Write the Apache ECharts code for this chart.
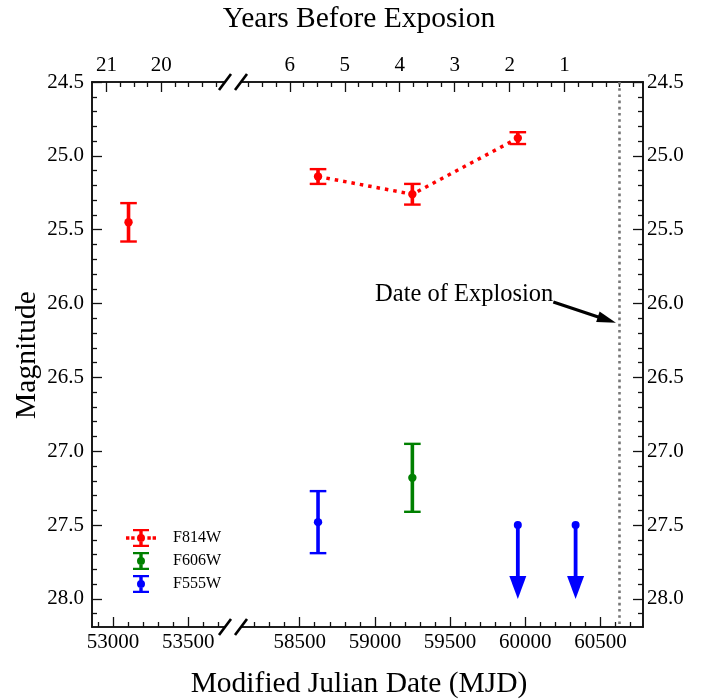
<!DOCTYPE html>
<html><head><meta charset="utf-8">
<script src="https://cdn.jsdelivr.net/npm/echarts@6/dist/echarts.min.js"></script>
<style>html,body{margin:0;padding:0;background:#fff}#chart{width:704px;height:700px}</style>
</head><body><div id="chart"></div>
<script>
// ---------------- data ----------------
const f814wMJD = [53103, 58622, 59249, 59950];
const f814wMag = [25.45, 25.14, 25.26, 24.88];
const f814wErr = [0.13, 0.05, 0.07, 0.04];
const f606wMJD = [59249];
const f606wMag = [27.18];
const f606wErr = [0.23];
const f555wMJD = [58622];
const f555wMag = [27.48];
const f555wErr = [0.21];
const f555wLimitMJD = [59950, 60334];
const f555wLimitMag = [27.5, 27.5];
const f555wLimitEnd = [28.0, 28.0];
const explosionMJD = 60626;
const annotationLabel = 'Date of Explosion';
const annotationFrom = [60186, 25.99];
const annotationTo = [60602, 26.13];

// axis ranges (MJD and magnitude)
const mjdLeftRange = [52860, 53745];
const mjdRightRange = [58110, 60782];
const magRange = [24.5, 28.19];

// tick labels / tick values
const mjdLeftTicks = [53000, 53500];
const mjdLeftMinor = [52900, 53100, 53200, 53300, 53400, 53600, 53700];
const mjdRightTicks = [58500, 59000, 59500, 60000, 60500];
const mjdRightMinor = [58200, 58300, 58400, 58600, 58700, 58800, 58900, 59100, 59200, 59300, 59400,
  59600, 59700, 59800, 59900, 60100, 60200, 60300, 60400, 60600, 60700];
const yearLeftTicks = [21, 20];
const yearLeftMinor = [20.75, 20.5, 20.25, 19.75, 19.5, 19.25, 19];
const yearRightTicks = [6, 5, 4, 3, 2, 1];
const yearRightMinor = [6.75, 6.5, 6.25, 5.75, 5.5, 5.25, 4.75, 4.5, 4.25, 3.75, 3.5, 3.25,
  2.75, 2.5, 2.25, 1.75, 1.5, 1.25, 0.75, 0.5, 0.25, 0, -0.25];
const magTicks = [24.5, 25.0, 25.5, 26.0, 26.5, 27.0, 27.5, 28.0];
const magMinor = [24.6, 24.7, 24.8, 24.9, 25.1, 25.2, 25.3, 25.4, 25.6, 25.7, 25.8, 25.9,
  26.1, 26.2, 26.3, 26.4, 26.6, 26.7, 26.8, 26.9, 27.1, 27.2, 27.3, 27.4, 27.6, 27.7, 27.8, 27.9, 28.1];

const DAYS_PER_YEAR = 365.25;

// ---------------- layout / style ----------------
const FONT = 'Liberation Serif';
const G0 = {left: 92, top: 82, width: 133, height: 545};
const G1 = {left: 241, top: 82, width: 402, height: 545};
const RED = '#ff0000', GREEN = '#008000', BLUE = '#0000ff';

function toYears(mjd) { return (explosionMJD - mjd) / DAYS_PER_YEAR; }

function xAxisDef(grid, pos, min, max, values, len, showLabels, margin, inverse, fmt) {
  return {
    type: 'value', gridIndex: grid, position: pos, min: min, max: max, inverse: !!inverse,
    axisLine: {show: true, onZero: false, lineStyle: {color: '#111', width: 1.6}},
    axisTick: {show: true, inside: true, length: len, customValues: values, lineStyle: {color: '#111', width: 1.3}},
    axisLabel: showLabels ? {show: true, customValues: values, margin: margin, color: '#000',
      fontFamily: FONT, fontSize: 21, formatter: fmt} : {show: false},
    splitLine: {show: false}, minorTick: {show: false}, axisPointer: {show: false}
  };
}
function yAxisDef(grid, pos, values, len, showLabels, margin) {
  return {
    type: 'value', gridIndex: grid, position: pos, min: magRange[0], max: magRange[1], inverse: true,
    axisLine: {show: true, onZero: false, lineStyle: {color: '#111', width: 1.6}},
    axisTick: {show: true, inside: true, length: len, customValues: values, lineStyle: {color: '#111', width: 1.3}},
    axisLabel: showLabels ? {show: true, customValues: values, margin: margin, color: '#000',
      fontFamily: FONT, fontSize: 21, formatter: v => Number(v).toFixed(1)} : {show: false},
    splitLine: {show: false}, minorTick: {show: false}
  };
}
const intFmt = v => String(Math.round(v));

function inRange(m, r) { return m >= r[0] && m <= r[1]; }
function errData(mjd, mag, err, r) {
  const out = [];
  mjd.forEach((m, i) => { if (inRange(m, r)) out.push([m, mag[i], err[i]]); });
  return out;
}

function errorBarRender(color) {
  return function (params, api) {
    const x = api.value(0), y = api.value(1), e = api.value(2);
    const c = api.coord([x, y]);
    const hi = api.coord([x, y - e]);
    const lo = api.coord([x, y + e]);
    const cap = 8.3;
    return {type: 'group', children: [
      {type: 'line', shape: {x1: c[0], y1: hi[1], x2: c[0], y2: lo[1]}, style: {stroke: color, lineWidth: 3.6}},
      {type: 'line', shape: {x1: c[0] - cap, y1: hi[1], x2: c[0] + cap, y2: hi[1]}, style: {stroke: color, lineWidth: 2.4}},
      {type: 'line', shape: {x1: c[0] - cap, y1: lo[1], x2: c[0] + cap, y2: lo[1]}, style: {stroke: color, lineWidth: 2.4}},
      {type: 'circle', shape: {cx: c[0], cy: c[1], r: 4.2}, style: {fill: color}}
    ]};
  };
}

function limitRender(params, api) {
  const x = api.value(0), m = api.value(1), end = api.value(2);
  const top = api.coord([x, m]);
  const tip = api.coord([x, end]);
  const headH = 23, headW = 8.5;
  return {type: 'group', children: [
    {type: 'line', shape: {x1: top[0], y1: top[1], x2: tip[0], y2: tip[1] - headH + 1}, style: {stroke: BLUE, lineWidth: 3.8}},
    {type: 'polygon', shape: {points: [[tip[0] - headW, tip[1] - headH], [tip[0] + headW, tip[1] - headH], [tip[0], tip[1]]]}, style: {fill: BLUE}},
    {type: 'circle', shape: {cx: top[0], cy: top[1], r: 4}, style: {fill: BLUE}}
  ]};
}

function annotationRender(params, api) {
  const a = api.coord([api.value(0), api.value(1)]);
  const b = api.coord([api.value(2), api.value(3)]);
  const dx = b[0] - a[0], dy = b[1] - a[1];
  const L = Math.sqrt(dx * dx + dy * dy);
  const ux = dx / L, uy = dy / L;
  const hl = 19, hw = 5.5;
  const bx = b[0] - ux * hl, by = b[1] - uy * hl;
  return {type: 'group', children: [
    {type: 'line', shape: {x1: a[0], y1: a[1], x2: bx + ux * 2, y2: by + uy * 2}, style: {stroke: '#000', lineWidth: 3.2}},
    {type: 'polygon', shape: {points: [[b[0], b[1]], [bx - uy * hw, by + ux * hw], [bx + uy * hw, by - ux * hw]]}, style: {fill: '#000'}},
    {type: 'text', x: a[0], y: a[1] - 8, style: {text: annotationLabel, fill: '#000', fontSize: 24.5, fontFamily: FONT, align: 'right', verticalAlign: 'middle'}}
  ]};
}

// legend icons (errorbar glyphs)
const iconDotted = 'path://M42,9L42,9 M0,7.3H3.4V10.7H0Z M5.2,7.3H8.6V10.7H5.2Z M21.4,7.3H24.8V10.7H21.4Z M26.6,7.3H30V10.7H26.6Z ' +
  'M7,0H23V2.3H7Z M7,15.7H23V18H7Z M13.3,0H16.7V18H13.3Z M11,9A4,4 0 1 1 19,9A4,4 0 1 1 11,9Z';
const iconBar = 'path://M0,9L0,9 M42,9L42,9 ' +
  'M7,0H23V2.3H7Z M7,15.7H23V18H7Z M13.3,0H16.7V18H13.3Z M11,9A4,4 0 1 1 19,9A4,4 0 1 1 11,9Z';

// break marks
function slash(cx, cy) {
  return {type: 'line', z: 100, shape: {x1: cx - 6, y1: cy + 8, x2: cx + 6, y2: cy - 8}, style: {stroke: '#000', lineWidth: 2.6}};
}
const gBreakL = G0.left + G0.width, gBreakR = G1.left, gTop = G0.top, gBot = G0.top + G0.height;

const chart = echarts.init(document.getElementById('chart'), null, {renderer: 'canvas'});
chart.setOption({
  animation: false,
  backgroundColor: '#fff',
  grid: [
    Object.assign({outerBoundsMode: 'none', containLabel: false}, G0),
    Object.assign({outerBoundsMode: 'none', containLabel: false}, G1)
  ],
  xAxis: [
    xAxisDef(0, 'bottom', mjdLeftRange[0], mjdLeftRange[1], mjdLeftTicks, 10, true, 5, false, intFmt),
    xAxisDef(0, 'bottom', mjdLeftRange[0], mjdLeftRange[1], mjdLeftMinor, 5, false),
    xAxisDef(0, 'top', toYears(mjdLeftRange[1]), toYears(mjdLeftRange[0]), yearLeftTicks, 10, true, 6, true, intFmt),
    xAxisDef(0, 'top', toYears(mjdLeftRange[1]), toYears(mjdLeftRange[0]), yearLeftMinor, 5, false, 0, true),
    xAxisDef(1, 'bottom', mjdRightRange[0], mjdRightRange[1], mjdRightTicks, 10, true, 5, false, intFmt),
    xAxisDef(1, 'bottom', mjdRightRange[0], mjdRightRange[1], mjdRightMinor, 5, false),
    xAxisDef(1, 'top', toYears(mjdRightRange[1]), toYears(mjdRightRange[0]), yearRightTicks, 10, true, 6, true, intFmt),
    xAxisDef(1, 'top', toYears(mjdRightRange[1]), toYears(mjdRightRange[0]), yearRightMinor, 5, false, 0, true)
  ],
  yAxis: [
    yAxisDef(0, 'left', magTicks, 10, true, 8),
    yAxisDef(0, 'left', magMinor, 5, false),
    yAxisDef(1, 'right', magTicks, 10, true, 4),
    yAxisDef(1, 'right', magMinor, 5, false)
  ],
  legend: {
    orient: 'vertical', left: 126, top: 529, padding: 0, itemWidth: 42, itemHeight: 18, itemGap: 5,
    selectedMode: false,
    textStyle: {fontFamily: FONT, fontSize: 16, color: '#000'},
    data: [{name: 'F814W', icon: iconDotted}, {name: 'F606W', icon: iconBar}, {name: 'F555W', icon: iconBar}]
  },
  graphic: [
    {type: 'text', x: 359, y: 19, style: {text: 'Years Before Exposion', fontSize: 29.5, fontFamily: FONT, fill: '#000', align: 'center', verticalAlign: 'middle'}},
    {type: 'text', x: 359, y: 684, style: {text: 'Modified Julian Date (MJD)', fontSize: 29.5, fontFamily: FONT, fill: '#000', align: 'center', verticalAlign: 'middle'}},
    {type: 'text', x: 27, y: 355, rotation: Math.PI / 2, style: {text: 'Magnitude', fontSize: 29.5, fontFamily: FONT, fill: '#000', align: 'center', verticalAlign: 'middle'}},
    slash(gBreakL, gTop), slash(gBreakR, gTop), slash(gBreakL, gBot), slash(gBreakR, gBot)
  ],
  series: [
    {
      name: 'F814W trend', type: 'line', xAxisIndex: 4, yAxisIndex: 2, z: 2,
      data: f814wMJD.map((m, i) => [m, f814wMag[i]]).filter(d => inRange(d[0], mjdRightRange)),
      symbol: 'none', showSymbol: false,
      lineStyle: {color: RED, width: 3.5, type: [3.5, 5], cap: 'butt'},
      markLine: {
        silent: true, symbol: ['none', 'none'], label: {show: false},
        lineStyle: {color: '#777777', width: 2.6, type: [2.6, 3.6]},
        data: [{xAxis: explosionMJD}]
      }
    },
    {name: 'F814W', type: 'custom', xAxisIndex: 0, yAxisIndex: 0, z: 3, itemStyle: {color: RED},
      encode: {x: 0, y: 1}, renderItem: errorBarRender(RED), data: errData(f814wMJD, f814wMag, f814wErr, mjdLeftRange)},
    {name: 'F814W', type: 'custom', xAxisIndex: 4, yAxisIndex: 2, z: 3, itemStyle: {color: RED},
      encode: {x: 0, y: 1}, renderItem: errorBarRender(RED), data: errData(f814wMJD, f814wMag, f814wErr, mjdRightRange)},
    {name: 'F606W', type: 'custom', xAxisIndex: 4, yAxisIndex: 2, z: 3, itemStyle: {color: GREEN},
      encode: {x: 0, y: 1}, renderItem: errorBarRender(GREEN), data: errData(f606wMJD, f606wMag, f606wErr, mjdRightRange)},
    {name: 'F555W', type: 'custom', xAxisIndex: 4, yAxisIndex: 2, z: 3, itemStyle: {color: BLUE},
      encode: {x: 0, y: 1}, renderItem: errorBarRender(BLUE), data: errData(f555wMJD, f555wMag, f555wErr, mjdRightRange)},
    {name: 'F555W limits', type: 'custom', xAxisIndex: 4, yAxisIndex: 2, z: 3, itemStyle: {color: BLUE},
      encode: {x: 0, y: 1}, renderItem: limitRender,
      data: f555wLimitMJD.map((m, i) => [m, f555wLimitMag[i], f555wLimitEnd[i]])},
    {name: 'annotation', type: 'custom', xAxisIndex: 4, yAxisIndex: 2, z: 4, silent: true,
      encode: {x: [0, 2], y: [1, 3]}, renderItem: annotationRender,
      data: [[annotationFrom[0], annotationFrom[1], annotationTo[0], annotationTo[1]]]}
  ]
});
</script>
</body></html>
